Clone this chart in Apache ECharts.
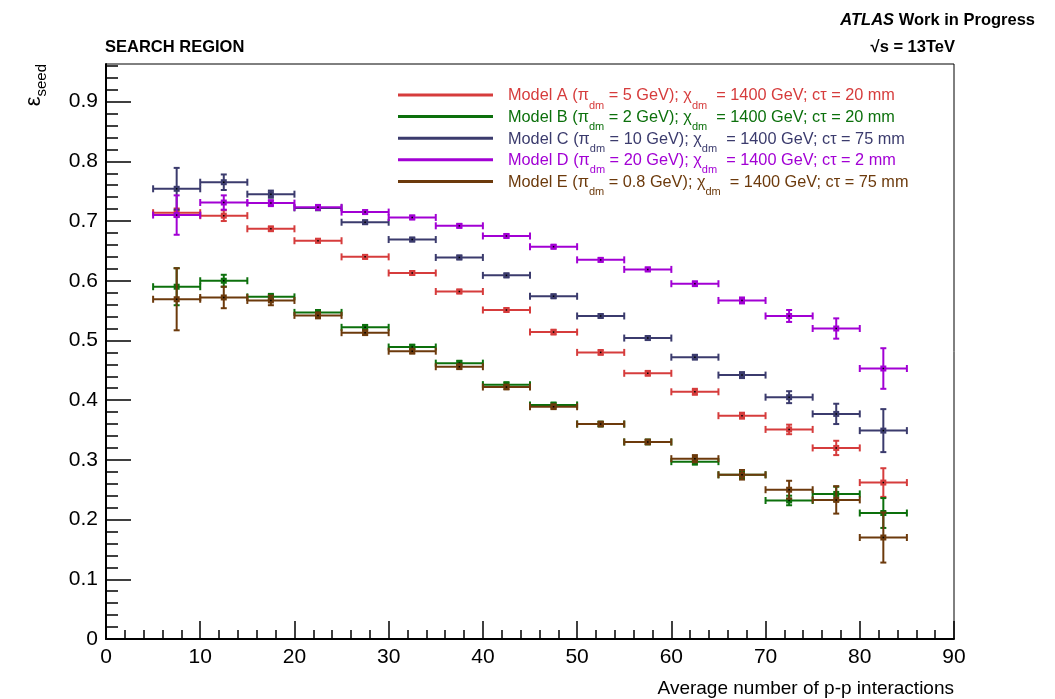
<!DOCTYPE html>
<html>
<head>
<meta charset="utf-8">
<title>Seed efficiency vs pile-up</title>
<script src="https://cdn.jsdelivr.net/npm/echarts@6/dist/echarts.min.js"></script>
<style>
  html, body { margin: 0; padding: 0; background: #fff; }
  #chart { width: 1055px; height: 699px; }
</style>
</head>
<body>
<div id="chart"></div>
<script>
// Bin centres of the <mu> histogram (each bin is 5 wide)
const binCenters = [7.5, 12.5, 17.5, 22.5, 27.5, 32.5, 37.5, 42.5, 47.5, 52.5, 57.5, 62.5, 67.5, 72.5, 77.5, 82.5];
const binHalfWidth = 2.5;

// Seed efficiency and its statistical uncertainty per model
const modelA = [0.714, 0.709, 0.687, 0.667, 0.640, 0.613, 0.582, 0.551, 0.514, 0.480, 0.445, 0.414, 0.374, 0.351, 0.320, 0.262];
const errA   = [0.007, 0.009, 0.004, 0.003, 0.003, 0.003, 0.003, 0.003, 0.004, 0.004, 0.004, 0.005, 0.005, 0.008, 0.012, 0.024];
const modelB = [0.590, 0.600, 0.573, 0.547, 0.522, 0.489, 0.462, 0.426, 0.392, 0.360, 0.330, 0.297, 0.275, 0.232, 0.243, 0.211];
const errB   = [0.031, 0.010, 0.005, 0.004, 0.004, 0.004, 0.004, 0.004, 0.004, 0.004, 0.004, 0.005, 0.006, 0.008, 0.012, 0.025];
const modelC = [0.754, 0.765, 0.745, 0.722, 0.698, 0.669, 0.639, 0.609, 0.574, 0.541, 0.504, 0.472, 0.442, 0.405, 0.377, 0.349];
const errC   = [0.035, 0.013, 0.006, 0.004, 0.003, 0.003, 0.003, 0.003, 0.003, 0.003, 0.003, 0.004, 0.005, 0.010, 0.017, 0.036];
const modelD = [0.710, 0.731, 0.730, 0.723, 0.715, 0.706, 0.692, 0.675, 0.657, 0.635, 0.619, 0.595, 0.567, 0.541, 0.520, 0.453];
const errD   = [0.033, 0.012, 0.005, 0.004, 0.003, 0.003, 0.003, 0.003, 0.003, 0.003, 0.003, 0.004, 0.005, 0.010, 0.017, 0.034];
const modelE = [0.569, 0.572, 0.567, 0.542, 0.513, 0.482, 0.456, 0.422, 0.389, 0.360, 0.330, 0.302, 0.275, 0.250, 0.233, 0.170];
const errE   = [0.052, 0.018, 0.008, 0.005, 0.004, 0.004, 0.004, 0.004, 0.004, 0.004, 0.004, 0.006, 0.008, 0.015, 0.023, 0.042];

// Model labels
const modelNames  = ['Model A', 'Model B', 'Model C', 'Model D', 'Model E'];
const pionMasses  = ['5', '2', '10', '20', '0.8'];
const chiMass     = '1400';
const ctauValues  = ['20', '20', '75', '2', '75'];
const modelColors = ['#d63c3c', '#0c700c', '#3b3b6d', '#a200d4', '#6c3a0c'];

// Axis tick labels
const xTicks = [0, 10, 20, 30, 40, 50, 60, 70, 80, 90];
const yTicks = [0, 0.1, 0.2, 0.3, 0.4, 0.5, 0.6, 0.7, 0.8, 0.9];

const FONT = '"Liberation Sans", Arial, Helvetica, sans-serif';
const values = [modelA, modelB, modelC, modelD, modelE];
const errors = [errA, errB, errC, errD, errE];

// ROOT-style error cross: horizontal bin-width bar and vertical error bar, both capped,
// with a small square marker in the middle.
function drawBin(params, api) {
  const x = api.value(0), y = api.value(1), err = api.value(2);
  const color = api.visual('color');
  const mid = api.coord([x, y]);
  const lo = api.coord([x - binHalfWidth, y]);
  const hi = api.coord([x + binHalfWidth, y]);
  const top = api.coord([x, y + err]);
  const bot = api.coord([x, y - err]);
  const st = { stroke: color, lineWidth: 2 };
  const seg = (x1, y1, x2, y2) => ({ type: 'line', shape: { x1, y1, x2, y2 }, style: st });
  return {
    type: 'group',
    children: [
      seg(lo[0], mid[1], hi[0], mid[1]),
      seg(lo[0], mid[1] - 3.5, lo[0], mid[1] + 3.5),
      seg(hi[0], mid[1] - 3.5, hi[0], mid[1] + 3.5),
      seg(mid[0], top[1], mid[0], bot[1]),
      seg(mid[0] - 3, top[1], mid[0] + 3, top[1]),
      seg(mid[0] - 3, bot[1], mid[0] + 3, bot[1]),
      { type: 'rect', shape: { x: mid[0] - 3, y: mid[1] - 3, width: 6, height: 6 }, style: { fill: color } },
      { type: 'rect', shape: { x: mid[0] - 0.75, y: mid[1] - 0.75, width: 1.5, height: 1.5 }, style: { fill: '#000' } }
    ]
  };
}

const series = modelNames.map((name, k) => ({
  name: name,
  type: 'custom',
  renderItem: drawBin,
  itemStyle: { color: modelColors[k] },
  encode: { x: 0, y: 1 },
  data: binCenters.map((b, i) => [b, values[k][i], errors[k][i]])
}));

function legendLabel(name) {
  const k = modelNames.indexOf(name);
  return '{m|' + name + ' (π}{s|dm}{m| = ' + pionMasses[k] + ' GeV); χ}{s|dm}{m|  = ' +
         chiMass + ' GeV; cτ = ' + ctauValues[k] + ' mm}';
}

const chart = echarts.init(document.getElementById('chart'), null, { renderer: 'canvas' });
chart.setOption({
  animation: false,
  color: modelColors,
  textStyle: { fontFamily: FONT },
  grid: {
    left: 106, right: 101, top: 64, bottom: 60,
    show: true, borderColor: '#000', borderWidth: 1, backgroundColor: 'transparent'
  },
  legend: {
    orient: 'vertical',
    left: 393, top: 80,
    icon: 'rect',
    itemWidth: 95, itemHeight: 3,
    itemGap: -4.4,
    selectedMode: false,
    data: modelNames.map((n, k) => ({ name: n, textStyle: { color: modelColors[k] } })),
    formatter: legendLabel,
    textStyle: {
      fontFamily: FONT,
      padding: [0, 0, 0, 10],
      rich: {
        m: { fontFamily: FONT, fontSize: 16.3, lineHeight: 20, padding: [3, 0, 0, 0], verticalAlign: 'top' },
        s: { fontFamily: FONT, fontSize: 11, lineHeight: 10, padding: [15, 0, 0, 0], verticalAlign: 'top' }
      }
    }
  },
  xAxis: {
    type: 'value',
    min: 0, max: 90, interval: 10,
    name: 'Average number of p-p interactions',
    nameLocation: 'end',
    nameGap: 0,
    nameTextStyle: { fontFamily: FONT, fontSize: 19, color: '#000', align: 'right', verticalAlign: 'top', padding: [40, 0, 0, 0] },
    axisLine: { show: true, onZero: false, lineStyle: { color: '#000', width: 2 } },
    axisTick: { show: true, inside: true, length: 18, lineStyle: { color: '#000', width: 1.5 } },
    minorTick: { show: true, splitNumber: 5, length: 9, lineStyle: { color: '#000', width: 1.5 } },
    axisLabel: {
      customValues: xTicks,
      fontFamily: FONT, fontSize: 21, color: '#000', margin: 8
    },
    splitLine: { show: false }
  },
  yAxis: {
    type: 'value',
    min: 0, max: 0.963, interval: 0.1,
    axisLine: { show: true, onZero: false, lineStyle: { color: '#000', width: 2 } },
    axisTick: { show: true, inside: true, length: 25, customValues: yTicks, lineStyle: { color: '#000', width: 1.5 } },
    minorTick: { show: true, splitNumber: 5, length: 12, lineStyle: { color: '#000', width: 1.5 } },
    axisLabel: {
      customValues: yTicks,
      formatter: v => (v === 0 ? '0' : v.toFixed(1)),
      fontFamily: FONT, fontSize: 21, color: '#000', margin: 8
    },
    splitLine: { show: false }
  },
  graphic: [
    {
      type: 'text', x: 1035, y: 12,
      style: {
        text: '{a|ATLAS}{b| Work in Progress}',
        align: 'right', verticalAlign: 'top',
        rich: {
          a: { fontFamily: FONT, fontSize: 16.5, fontWeight: 'bold', fontStyle: 'italic', fill: '#000' },
          b: { fontFamily: FONT, fontSize: 16.5, fontWeight: 'bold', fill: '#000' }
        }
      }
    },
    {
      type: 'text', x: 105, y: 39,
      style: { text: 'SEARCH REGION', fontFamily: FONT, fontSize: 16.5, fontWeight: 'bold', fill: '#000', align: 'left', verticalAlign: 'top' }
    },
    {
      type: 'text', x: 955, y: 39,
      style: { text: '√s = 13TeV', fontFamily: FONT, fontSize: 16.5, fontWeight: 'bold', fill: '#000', align: 'right', verticalAlign: 'top' }
    },
    {
      type: 'text', x: 23, y: 64, rotation: Math.PI / 2,
      style: {
        text: '{e|ε}{s|seed}',
        align: 'right', verticalAlign: 'top',
        rich: {
          e: { fontFamily: FONT, fontSize: 22, lineHeight: 22, verticalAlign: 'top', fill: '#000' },
          s: { fontFamily: FONT, fontSize: 15, lineHeight: 15, padding: [11, 0, 0, 0], verticalAlign: 'top', fill: '#000' }
        }
      }
    }
  ],
  series: series
});
</script>
</body>
</html>
